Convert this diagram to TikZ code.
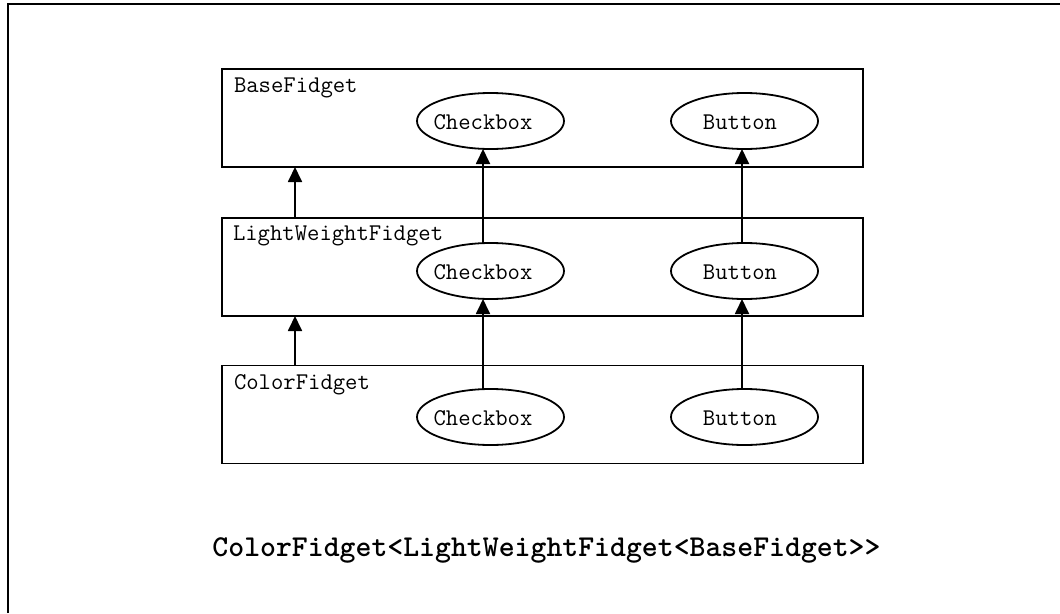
\documentclass[tikz,border=0pt]{standalone}
\usetikzlibrary{arrows.meta,shapes.geometric}

\begin{document}
\begin{tikzpicture}[x=1pt,y=-1pt,
  every node/.style={outer sep=0pt},
  layer/.style={draw, line width=1.8pt, minimum width=641pt, minimum height=98pt, inner sep=0pt},
  oval/.style={draw, ellipse, line width=1.8pt, minimum width=147pt, minimum height=56pt, inner sep=0pt},
  tag/.style={font=\ttfamily\fontsize{24}{27}\selectfont, inner sep=0pt, anchor=base west},
  part/.style={font=\ttfamily\fontsize{24}{27}\selectfont, inner sep=0pt, anchor=base},
  arr/.style={line width=1.8pt, -{Triangle[length=15pt,width=14pt]}},
]
\useasboundingbox (0,0) rectangle (1060,613);

% frame
\draw[line width=1.8pt] (8,613) -- (8,4) -- (1060,4);

% layers
\node[layer] (base)  at (542.5,118)   {};
\node[layer] (light) at (542.5,267)   {};
\node[layer] (color) at (542.5,414.5) {};

\node[tag] (baseT)  at (234,92)  {BaseFidget};
\node[tag] (lightT) at (233,240) {LightWeightFidget};
\node[tag] (colorT) at (234,389) {ColorFidget};

% components
\node[oval] (cb1) at (490.5,121) {};
\node[oval] (bt1) at (744.5,121) {};
\node[oval] (cb2) at (490.5,271) {};
\node[oval] (bt2) at (744.5,271) {};
\node[oval] (cb3) at (490.5,417) {};
\node[oval] (bt3) at (744.5,417) {};

\node[part] (cb1T) at (483,129) {Checkbox};
\node[part] (bt1T) at (740,129) {Button};
\node[part] (cb2T) at (483,279) {Checkbox};
\node[part] (bt2T) at (740,279) {Button};
\node[part] (cb3T) at (483,425) {Checkbox};
\node[part] (bt3T) at (740,425) {Button};

% arrow columns
\coordinate (lx) at (295,0);
\coordinate (cx) at (483,0);
\coordinate (bx) at (742,0);

\draw[arr] (light.north -| lx) -- (base.south -| lx);
\draw[arr] (color.north -| lx) -- (light.south -| lx);
\draw[arr] (cb2.north -| cx) -- (cb1.south -| cx);
\draw[arr] (cb3.north -| cx) -- (cb2.south -| cx);
\draw[arr] (bt2.north -| bx) -- (bt1.south -| bx);
\draw[arr] (bt3.north -| bx) -- (bt2.south -| bx);

% caption
\node[font=\ttfamily\bfseries\fontsize{30.3}{34}\selectfont, inner sep=0pt, anchor=base] (title)
  at (546.5,556) {ColorFidget<LightWeightFidget<BaseFidget>>};
\end{tikzpicture}
\end{document}
